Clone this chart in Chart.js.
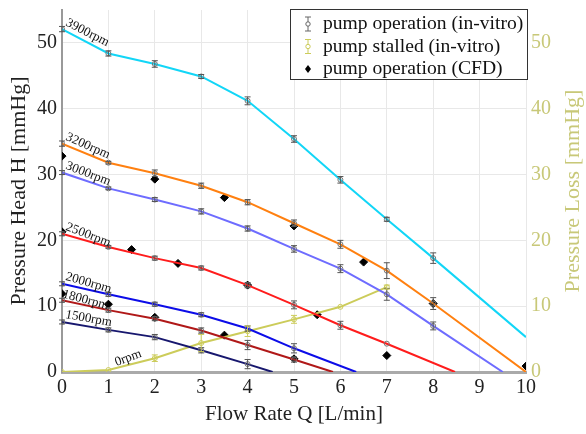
<!DOCTYPE html>
<html>
<head>
<meta charset="utf-8">
<script src="https://cdn.jsdelivr.net/npm/chart.js@4"></script>
<style>
  html, body { margin: 0; padding: 0; background: #fff; }
  #wrap { width: 586px; height: 434px; }
</style>
</head>
<body>
<div id="wrap"><canvas id="pumpChart"></canvas></div>
<script>
// flow rate at which the in-vitro points were measured [L/min]
var flow = [0, 1, 2, 3, 4, 5, 6, 7, 8];

// pressure head per speed [mmHg] (in-vitro)
var h3900 = [52.1, 48.4, 46.8, 44.9, 41.2, 35.4, 29.2, 23.2, 17.3];
var h3200 = [34.7, 31.8, 30.2, 28.3, 25.8, 22.6, 19.4, 15.4, 10.4];
var h3000 = [30.3, 27.9, 26.2, 24.4, 21.8, 18.7, 15.7, 11.8, 7.0];
var h2500 = [21.0, 19.0, 17.3, 15.8, 13.2, 10.2, 7.1, 4.3];
var h2000 = [13.4, 11.8, 10.3, 8.7, 6.6, 3.6];
var h1800 = [10.9, 9.4, 8.1, 6.3, 4.1, 1.9];
var h1500 = [7.6, 6.4, 5.3, 3.3, 1.2];
var loss0 = [0, 0.3, 2.1, 4.4, 6.2, 8.0, 9.9, 12.9];

// error bar half widths
var e3900 = [0.4, 0.4, 0.5, 0.3, 0.6, 0.5, 0.5, 0.3, 0.8];
var e3200 = [0.4, 0.2, 0.5, 0.4, 0.4, 0.5, 0.6, 1.2, 0.9];
var e3000 = [0.3, 0.2, 0.3, 0.4, 0.4, 0.5, 0.6, 0.9, 0.6];
var e2500 = [0.3, 0.2, 0.3, 0.3, 0.4, 0.6, 0.6, 0];
var e2000 = [0.3, 0.3, 0.3, 0.3, 0.4, 0.7];
var e1800 = [0.3, 0.3, 0.3, 0.4, 0.7, 0.4];
var e1500 = [0.3, 0.3, 0.4, 0.4, 0.7];
var eLoss = [0, 0, 0.5, 1.3, 0.8, 0.6, 0, 0.3];

// extrapolated end of each curve [flow, head]
var end3900 = [10, 5.3];
var end3200 = [10, 0];
var end3000 = [9.5, 0];
var end2500 = [8.47, 0];
var end2000 = [6.34, 0];
var end1800 = [5.84, 0];
var end1500 = [4.54, 0];

// CFD results
var cfdQ = [0, 0, 0, 1, 1.5, 2, 2, 2.5, 3.5, 3.5, 4, 5, 5, 5.5, 6.5, 7, 8, 10];
var cfdH = [32.8, 21.3, 11.9, 10.3, 18.6, 29.3, 8.3, 16.5, 26.5, 5.6, 13.2, 22.2, 2.0, 8.7, 16.7, 2.5, 10.4, 0.9];

var xTicks = [0, 1, 2, 3, 4, 5, 6, 7, 8, 9, 10];
var yTicks = [0, 10, 20, 30, 40, 50];

var SERIF = '"Liberation Serif", "DejaVu Serif", serif';
var lossColor = '#cccc5a';
var lossText = '#c8c878';

function curve(label, vals, errs, end, color) {
  var pts = vals.map(function (v, i) { return { x: flow[i], y: v }; });
  var radii = vals.map(function () { return 2.5; });
  if (end) { pts.push({ x: end[0], y: end[1] }); radii.push(0); }
  return {
    label: label,
    data: pts,
    errors: errs,
    showLine: true,
    borderColor: color,
    borderWidth: 2,
    pointRadius: radii,
    pointBorderColor: '#777',
    pointBackgroundColor: 'rgba(0,0,0,0)',
    pointBorderWidth: 1,
    yAxisID: 'y'
  };
}

var datasets = [
  curve('3900rpm', h3900, e3900, end3900, '#12d6f7'),
  curve('3200rpm', h3200, e3200, end3200, '#ff8010'),
  curve('3000rpm', h3000, e3000, end3000, '#6e6cff'),
  curve('2500rpm', h2500, e2500, end2500, '#ff1c1c'),
  curve('2000rpm', h2000, e2000, end2000, '#0c0ce8'),
  curve('1800rpm', h1800, e1800, end1800, '#b01818'),
  curve('1500rpm', h1500, e1500, end1500, '#17176e')
];

var lossSet = curve('0rpm', loss0, eLoss, null, lossColor);
lossSet.pointBorderColor = lossColor;
lossSet.errColor = lossColor;
lossSet.yAxisID = 'y2';
datasets.push(lossSet);

datasets.push({
  label: 'CFD',
  data: cfdQ.map(function (q, i) { return { x: q, y: cfdH[i] }; }),
  showLine: false,
  pointStyle: 'rectRot',
  pointRadius: 4,
  pointBackgroundColor: '#000',
  pointBorderColor: '#000',
  yAxisID: 'y'
});

// rpm labels: [dataset index, flow of anchor point, pixel dx, pixel dy, angle deg]
var rpmLabels = [
  [0, 0, 3, -4, 27],
  [1, 0, 3, -4, 24],
  [2, 0, 3, -4, 21],
  [3, 0, 3, -4, 21],
  [4, 0, 3, -4, 16],
  [5, 0, 0, -3, 15],
  [6, 0, 3, -4, 10],
  [7, 1, 8, -4, -20]
];

var errorBars = {
  id: 'errorBars',
  afterDatasetsDraw: function (chart) {
    var ctx = chart.ctx;
    chart.data.datasets.forEach(function (ds) {
      if (!ds.errors) return;
      var ys = chart.scales[ds.yAxisID];
      var xs = chart.scales.x;
      ctx.save();
      ctx.strokeStyle = ds.errColor || '#555';
      ctx.lineWidth = 1;
      ds.errors.forEach(function (e, i) {
        if (!e) return;
        var px = xs.getPixelForValue(ds.data[i].x);
        var top = ys.getPixelForValue(ds.data[i].y + e);
        var bot = ys.getPixelForValue(ds.data[i].y - e);
        ctx.beginPath();
        ctx.moveTo(px, top); ctx.lineTo(px, bot);
        ctx.moveTo(px - 3, top); ctx.lineTo(px + 3, top);
        ctx.moveTo(px - 3, bot); ctx.lineTo(px + 3, bot);
        ctx.stroke();
      });
      ctx.restore();
    });
  }
};

var labelsAndLegend = {
  id: 'labelsAndLegend',
  afterDraw: function (chart) {
    var ctx = chart.ctx;
    var xs = chart.scales.x, ys = chart.scales.y;
    ctx.save();
    ctx.font = '13px ' + SERIF;
    ctx.fillStyle = '#111';
    ctx.textBaseline = 'alphabetic';
    rpmLabels.forEach(function (l) {
      var ds = chart.data.datasets[l[0]];
      var pt = ds.data.find(function (p) { return p.x === l[1]; });
      if (!pt) return;
      var px = xs.getPixelForValue(l[1]) + l[2];
      var py = ys.getPixelForValue(pt.y) + l[3];
      ctx.save();
      ctx.translate(px, py);
      ctx.rotate(l[4] * Math.PI / 180);
      ctx.fillText(ds.label, 0, 0);
      ctx.restore();
    });

    // right axis title, reading bottom to top like the left one
    var ra = chart.scales.y2;
    ctx.save();
    ctx.font = '22px ' + SERIF;
    ctx.fillStyle = lossText;
    ctx.textAlign = 'center';
    ctx.textBaseline = 'middle';
    ctx.translate(ra.right - 13, (ra.top + ra.bottom) / 2);
    ctx.rotate(-Math.PI / 2);
    ctx.fillText('Pressure Loss [mmHg]', 0, 0);
    ctx.restore();

    // legend box
    var bx = 290, by = 9, bw = 237, bh = 70;
    ctx.fillStyle = '#fff';
    ctx.fillRect(bx, by, bw, bh);
    ctx.strokeStyle = '#333';
    ctx.lineWidth = 1;
    ctx.strokeRect(bx + 0.5, by + 0.5, bw, bh);
    var items = [
      ['pump operation (in-vitro)', '#666', 'bar'],
      ['pump stalled (in-vitro)', lossColor, 'bar'],
      ['pump operation (CFD)', '#000', 'diamond']
    ];
    ctx.font = '19.6px ' + SERIF;
    ctx.textBaseline = 'middle';
    ctx.textAlign = 'left';
    items.forEach(function (it, i) {
      var cy = by + 15 + i * 22.5;
      var mx = bx + 18;
      ctx.strokeStyle = it[1];
      ctx.fillStyle = it[1];
      if (it[2] === 'bar') {
        ctx.beginPath();
        ctx.moveTo(mx, cy - 7); ctx.lineTo(mx, cy + 7);
        ctx.moveTo(mx - 3, cy - 7); ctx.lineTo(mx + 3, cy - 7);
        ctx.moveTo(mx - 3, cy + 7); ctx.lineTo(mx + 3, cy + 7);
        ctx.stroke();
        ctx.fillStyle = '#fff';
        ctx.beginPath(); ctx.arc(mx, cy, 2.2, 0, Math.PI * 2); ctx.fill(); ctx.stroke();
      } else {
        ctx.beginPath();
        ctx.moveTo(mx, cy - 4); ctx.lineTo(mx + 3, cy); ctx.lineTo(mx, cy + 4); ctx.lineTo(mx - 3, cy);
        ctx.closePath(); ctx.fill();
      }
      ctx.fillStyle = '#111';
      ctx.fillText(it[0], bx + 33, cy);
    });
    ctx.restore();
  }
};

function fitSide(width) {
  return function (s) { s.width = width; s.paddingTop = 0; s.paddingBottom = 0; };
}

new Chart(document.getElementById('pumpChart').getContext('2d'), {
  type: 'scatter',
  data: { datasets: datasets },
  plugins: [errorBars, labelsAndLegend],
  options: {
    responsive: true,
    maintainAspectRatio: false,
    animation: false,
    layout: { padding: { top: 10, left: 0, right: 0, bottom: 0 } },
    plugins: { legend: { display: false }, tooltip: { enabled: false } },
    scales: {
      x: {
        type: 'linear', min: 0, max: 10,
        afterFit: function (s) { s.height = 62; },
        afterBuildTicks: function (s) { s.ticks = xTicks.map(function (v) { return { value: v }; }); },
        grid: { color: '#e8e8e8', drawTicks: false },
        border: { color: '#aaa', width: 3 },
        ticks: { color: '#222', font: { family: SERIF, size: 20 }, padding: 4 },
        title: { display: true, text: 'Flow Rate Q [L/min]', color: '#222', font: { family: SERIF, size: 21 }, padding: { top: 0, bottom: 7 } }
      },
      y: {
        type: 'linear', position: 'left', min: 0, max: 55,
        afterFit: fitSide(62),
        afterBuildTicks: function (s) { s.ticks = yTicks.map(function (v) { return { value: v }; }); },
        grid: { color: '#e8e8e8', drawTicks: false },
        border: { color: '#999', width: 2 },
        ticks: { color: '#222', font: { family: SERIF, size: 20 }, padding: 5 },
        title: { display: true, text: 'Pressure Head H [mmHg]', color: '#222', font: { family: SERIF, size: 22 }, padding: { top: 6, bottom: 0 } }
      },
      y2: {
        type: 'linear', position: 'right', min: 0, max: 55,
        afterFit: fitSide(60),
        afterBuildTicks: function (s) { s.ticks = yTicks.map(function (v) { return { value: v }; }); },
        grid: { display: false, drawTicks: false },
        border: { display: false },
        ticks: { color: lossText, font: { family: SERIF, size: 20 }, padding: 5 }
      }
    }
  }
});
</script>
</body>
</html>
